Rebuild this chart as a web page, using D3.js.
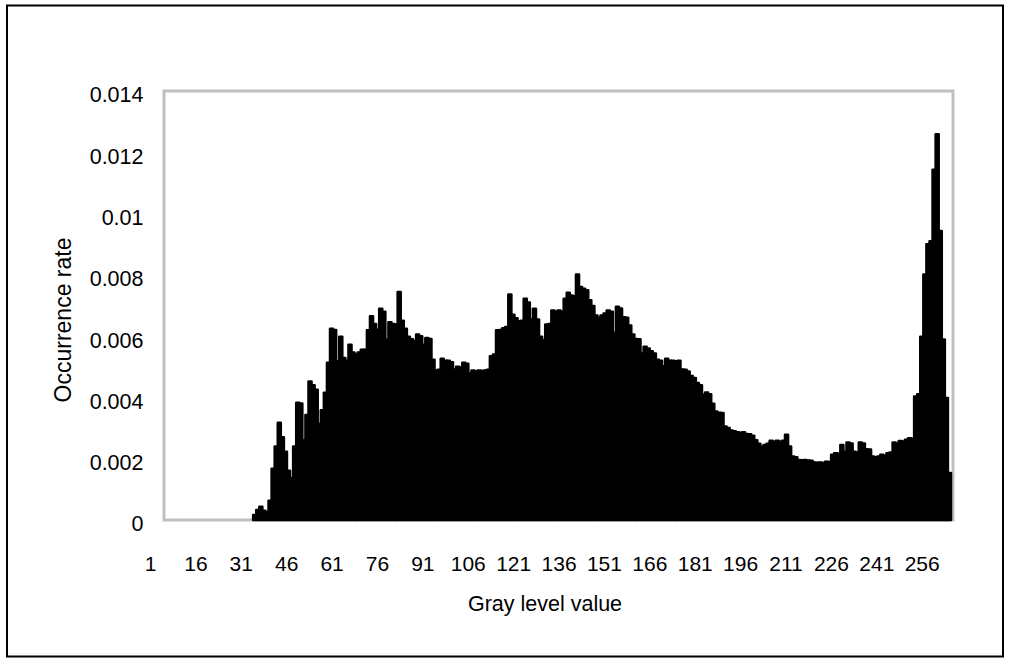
<!DOCTYPE html>
<html>
<head>
<meta charset="utf-8">
<script src="https://cdn.jsdelivr.net/npm/d3@7"></script>
<style>
  body { margin: 0; background: #fff; }
  svg text { font-family: "Liberation Sans", Arial, sans-serif; fill: #000; }
</style>
</head>
<body>
<div id="vis"></div>
<script>
// gray levels 1..256 (one bar each)
const GRAY_LEVELS = d3.range(1, 257);

// occurrence rate per gray level
const RATES = [
  0, 0, 0, 0, 0, 0, 0, 0, 0, 0,
  0, 0, 0, 0, 0, 0, 0, 0, 0, 0,
  0, 0, 0, 0, 0, 0, 0, 0, 0, .00016,
  .00033, .00043, .0003, .00026, .00063, .00167, .0024, .00317, .0027, .00223,
  .00161, .00137, .0024, .00383, .0038, .0026, .00343, .00452, .0044, .00425,
  .00314, .00358, .00415, .00513, .00624, .0062, .00518, .00598, .00529, .0052,
  .00572, .00547, .0054, .00547, .00556, .00556, .00619, .00665, .0064, .00621,
  .00689, .0068, .00589, .00645, .0064, .00638, .00744, .0065, .00624, .00598,
  .0059, .00583, .00605, .006, .00572, .00594, .00591, .00523, .00488, .0049,
  .00526, .0052, .0052, .00515, .00491, .005, .00498, .00513, .0051, .00478,
  .00488, .00485, .00488, .00486, .00488, .0049, .00534, .0054, .00619, .0062,
  .00626, .0063, .00736, .0067, .00658, .00649, .0065, .00722, .0071, .00654,
  .00689, .00654, .00598, .00587, .00638, .0064, .00684, .0068, .00684, .0068,
  .00722, .00742, .00733, .0073, .00801, .0076, .00755, .0075, .00717, .00698,
  .00667, .0066, .00667, .00674, .00684, .0068, .00611, .00696, .0069, .00662,
  .0066, .00635, .00605, .00591, .0059, .00543, .00565, .0056, .00551, .00543,
  .00523, .0052, .00502, .00526, .0052, .0052, .00518, .0052, .00491, .0049,
  .00485, .0047, .00463, .00447, .0044, .00409, .00416, .0041, .00379, .00354,
  .0035, .00349, .00305, .003, .00292, .0029, .00286, .00285, .00286, .00281,
  .0028, .00275, .0026, .00249, .00238, .00245, .00249, .00259, .00255, .00259,
  .00255, .00259, .00278, .0024, .00207, .00205, .00196, .00195, .00196, .00194,
  .00193, .00188, .00187, .00188, .00186, .0019, .00189, .00213, .00218, .00216,
  .00245, .00223, .00253, .0025, .00223, .0022, .00253, .0025, .00231, .0023,
  .00207, .00205, .00207, .00213, .0021, .00218, .0022, .00253, .0025, .00258,
  .00256, .00262, .00267, .00265, .00403, .0041, .00598, .00801, .009, .0091,
  .01143, .01259, .00943, .00589, .00398, .00153
];

// axis ticks
const X_TICKS = [1, 16, 31, 46, 61, 76, 91, 106, 121, 136, 151, 166, 181, 196, 211, 226, 241, 256];
const Y_TICKS = [0, 0.002, 0.004, 0.006, 0.008, 0.01, 0.012, 0.014];
const Y_LABELS = ["0", "0.002", "0.004", "0.006", "0.008", "0.01", "0.012", "0.014"];

const WIDTH = 1010;
const HEIGHT = 664;
// plot box (gray frame)
const PLOT = {left: 164, right: 953, top: 91, bottom: 520};

const data = GRAY_LEVELS.map((g, i) => ({level: g, rate: RATES[i]}));

const svg = d3.select("#vis")
  .append("svg")
    .attr("width", WIDTH)
    .attr("height", HEIGHT);

// outer black frame
svg.append("rect")
  .attr("x", 7).attr("y", 5.5)
  .attr("width", 996).attr("height", 651)
  .attr("fill", "#fff")
  .attr("stroke", "#000")
  .attr("stroke-width", 2);

// scales
const X_BAND = d3.scaleBand()
  .domain(GRAY_LEVELS)
  .range([PLOT.left, PLOT.right - 2])
  .padding(0);

// category labels sit a bit off from the bars in the original
const X_LABEL = d3.scaleLinear()
  .domain([1, 256])
  .range([150, 921.7]);

const Y_SCALE = d3.scaleLinear()
  .domain([0, 0.014])
  .range([PLOT.bottom, PLOT.top]);

// gray plot box
svg.append("rect")
  .attr("x", PLOT.left).attr("y", PLOT.top)
  .attr("width", PLOT.right - PLOT.left)
  .attr("height", PLOT.bottom - PLOT.top)
  .attr("fill", "none")
  .attr("stroke", "#c0c0c0")
  .attr("stroke-width", 3);

// bars
svg.append("g")
  .selectAll("rect")
  .data(data.filter(d => d.rate > 0))
  .enter()
  .append("rect")
    .attr("x", d => X_BAND(d.level))
    .attr("y", d => Y_SCALE(d.rate))
    .attr("width", X_BAND.bandwidth())
    .attr("height", d => Y_SCALE(0) - Y_SCALE(d.rate))
    .attr("fill", "#000")
    .attr("stroke", "#000")
    .attr("stroke-width", 2.5)
    .attr("stroke-linejoin", "round");

// y axis labels
const yAxis = svg.append("g")
  .attr("transform", "translate(" + 143.5 + ",4)")
  .call(d3.axisLeft(Y_SCALE)
    .tickValues(Y_TICKS)
    .tickFormat((d, i) => Y_LABELS[i])
    .tickSize(0)
    .tickPadding(0));
yAxis.select(".domain").remove();
yAxis.selectAll("text")
  .attr("font-size", "21.5px")
  .attr("font-family", "Liberation Sans, Arial, sans-serif");

// x axis labels
const xAxis = svg.append("g")
  .attr("transform", "translate(0,556)")
  .call(d3.axisBottom(X_LABEL)
    .tickValues(X_TICKS)
    .tickFormat(d3.format("d"))
    .tickSize(0)
    .tickPadding(0));
xAxis.select(".domain").remove();
xAxis.selectAll("text")
  .attr("font-size", "21px")
  .attr("font-family", "Liberation Sans, Arial, sans-serif");

// axis titles
svg.append("text")
  .attr("x", 545).attr("y", 611)
  .attr("text-anchor", "middle")
  .attr("font-size", "21.5px")
  .text("Gray level value");

svg.append("text")
  .attr("transform", "translate(71,320) rotate(-90)")
  .attr("text-anchor", "middle")
  .attr("font-size", "23px")
  .text("Occurrence rate");
</script>
</body>
</html>
